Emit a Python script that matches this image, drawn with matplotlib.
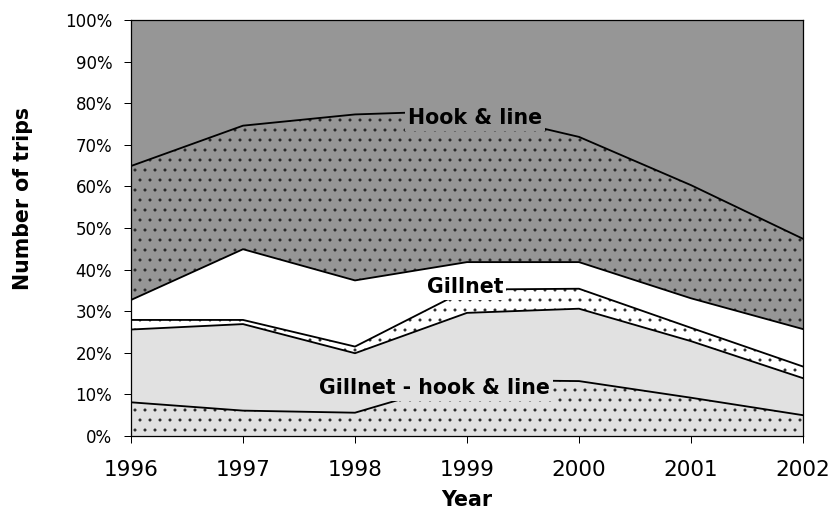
import numpy as np, matplotlib; matplotlib.use("Agg")
import matplotlib.pyplot as plt
from matplotlib.ticker import PercentFormatter

plt.rcParams.update({"font.family": "DejaVu Sans", "hatch.linewidth": 0.6,
                     "axes.linewidth": 0.75, "axes.edgecolor": "black"})

years = [1996, 1997, 1998, 1999, 2000, 2001, 2002]
# share of trips (%) by gear, each gear split into a dotted and a plain part
gnhl_dot = [8.1, 6.1, 5.6, 13.5, 13.2, 9.2, 5.0]
gnhl_plain = [17.5, 20.8, 14.3, 16.1, 17.4, 13.6, 8.9]
gn_dot = [2.3, 1.0, 1.6, 5.6, 4.8, 3.2, 2.8]
gn_plain = [4.8, 17.0, 15.9, 6.6, 6.4, 7.1, 9.0]
hl_dot = [32.2, 29.7, 39.9, 36.4, 30.1, 27.2, 21.7]
hl_plain = [35.1, 25.4, 22.7, 21.8, 28.1, 39.7, 52.6]
gear_labels = ["Gillnet - hook & line", "Gillnet", "Hook & line"]
yticks = list(range(0, 101, 10))

layers = np.array([gnhl_dot, gnhl_plain, gn_dot, gn_plain, hl_dot, hl_plain])
layers = layers / layers.sum(0) * 100
fills = ["#e1e1e1", "#e1e1e1", "white", "white", "#969696", "#969696"]
hatch = ["..", "", "..", "", "..", ""]

fig = plt.figure(figsize=(834 / 120, 511 / 120))
ax = fig.add_axes([131 / 834, 1 - 436 / 511, 672 / 834, 416 / 511])
polys = ax.stackplot(years, *layers, colors=fills, edgecolor="0.15", linewidth=0)
for p, h in zip(polys, hatch):
    p.set_hatch(h)
cum = np.cumsum(layers, axis=0)
for row in cum[:-1]:
    ax.plot(years, row, color="black", lw=1.1, zorder=3)

# in-plot gear labels, boxes hide the boundary line beneath
lab_pos = [(1998.71, 11.5), (1998.98, 35.8), (1999.07, 76.4)]
lab_bg = ["#e1e1e1", "white", "#969696"]
for t, (x, y), bg in zip(gear_labels, lab_pos, lab_bg):
    ax.text(x, y, t, ha="center", va="center", fontsize=12.3, fontweight="bold",
            zorder=4, bbox=dict(boxstyle="square,pad=0.15", fc=bg, ec="none"))

ax.set_xlim(1996, 2002); ax.set_ylim(0, 100)
ax.set_xticks(years); ax.set_yticks(yticks)
ax.yaxis.set_major_formatter(PercentFormatter(decimals=0))
ax.tick_params(axis="x", direction="out", length=4.2, width=0.6, labelsize=12.9, pad=10.5)
ax.tick_params(axis="y", direction="out", length=4.2, width=0.6, labelsize=10, pad=7)
for s in ax.spines.values():
    s.set_zorder(5)

ax.set_xlabel("Year", fontsize=12.3, fontweight="bold")
ax.set_ylabel("Number of trips", fontsize=12.3, fontweight="bold")
ax.xaxis.set_label_coords(0.5, -0.154); ax.xaxis.label.set_va("center")
ax.yaxis.set_label_coords(-0.161, 0.572); ax.yaxis.label.set_va("center")

fig.savefig("out.png", dpi=120)
